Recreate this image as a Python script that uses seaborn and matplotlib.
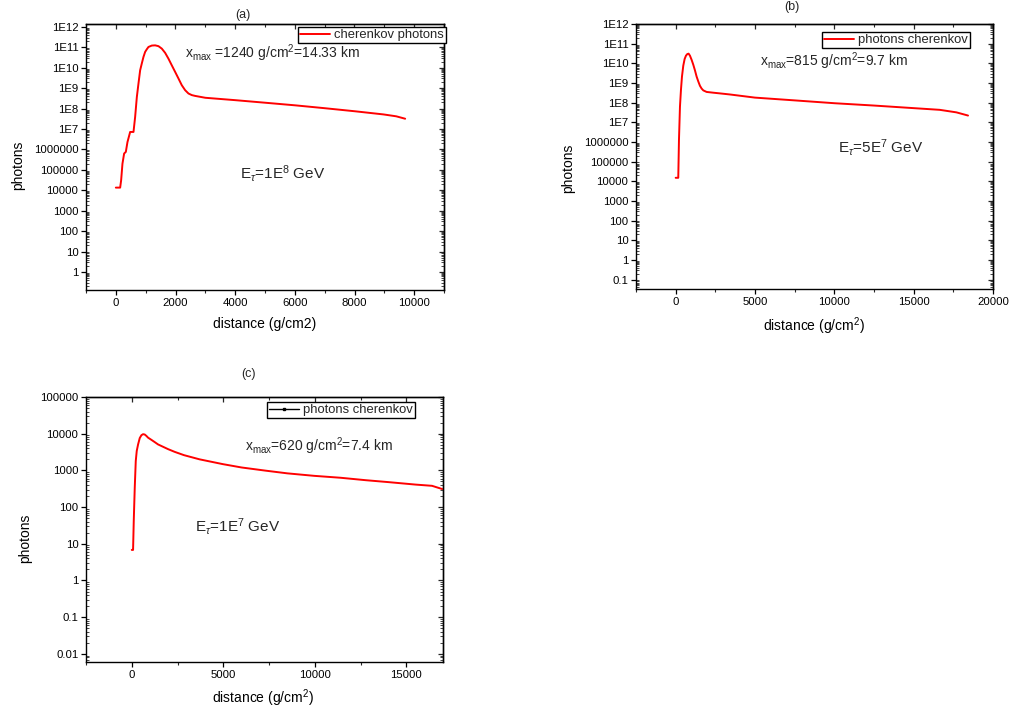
import numpy as np
import pandas as pd
import matplotlib
matplotlib.use("Agg")
import matplotlib.pyplot as plt
import seaborn as sns
from matplotlib.ticker import FixedLocator, LogLocator, MultipleLocator, NullFormatter
from matplotlib.lines import Line2D

# ---------------- data ----------------
a_x = [0, 145, 178, 222, 278, 335, 390, 480, 592, 647, 704, 759, 815, 870, 926, 982, 1038,
       1094, 1206, 1317, 1429, 1541, 1653, 1764, 1876, 1988, 2099, 2211, 2323, 2435, 2547,
       2658, 3000, 4000, 5000, 6011, 7000, 8022, 8972, 9400, 9698]
a_y = [1.35e4, 1.35e4, 3.1e4, 2.0e5, 6.3e5, 7.6e5, 2.3e6, 7.2e6, 7.2e6, 3.9e7, 3.7e8,
       1.7e9, 7.6e9, 1.62e10, 3.4e10, 6.0e10, 8.1e10, 1.05e11, 1.23e11, 1.26e11, 1.15e11,
       8.7e10, 5.4e10, 2.8e10, 1.32e10, 6.3e9, 3.0e9, 1.4e9, 8.0e8, 5.5e8, 4.6e8, 4.2e8,
       3.4e8, 2.6e8, 1.95e8, 1.45e8, 1.05e8, 7.4e7, 5.2e7, 4.2e7, 3.2e7]

b_x = [0, 164, 208, 271, 334, 397, 480, 565, 649, 732, 816, 900, 1006, 1110, 1215, 1321,
       1425, 1530, 1635, 1740, 1950, 2370, 2790, 3420, 4995, 7500, 10031, 12500, 15068,
       16642, 17691, 18426]
b_y = [1.5e4, 1.5e4, 1.26e6, 6.3e7, 4.5e8, 2.1e9, 7.6e9, 1.66e10, 2.45e10, 2.95e10,
       3.1e10, 2.45e10, 1.5e10, 8.5e9, 4.4e9, 2.1e9, 1.2e9, 7.2e8, 5.2e8, 4.2e8, 3.5e8,
       3.2e8, 2.95e8, 2.6e8, 1.8e8, 1.3e8, 9.3e7, 7.1e7, 5.2e7, 4.3e7, 3.2e7, 2.2e7]

c_x = [0, 71, 109, 163, 218, 272, 345, 436, 527, 618, 708, 799, 890, 1072, 1254, 1435,
       1708, 1980, 2344, 2853, 3704, 4976, 6000, 7336, 8500, 9969, 11400, 12784, 14000,
       15508, 16400, 16960]
c_y = [6.8, 6.8, 43, 340, 1800, 3400, 5100, 7600, 9100, 9700, 9500, 8700, 7800, 6800,
       5900, 5100, 4400, 3800, 3200, 2600, 2000, 1480, 1200, 980, 830, 710, 630, 540, 480,
       410, 380, 310]

ab_yticks = [1e-1, 1, 10, 100, 1e3, 1e4, 1e5, 1e6, 1e7, 1e8, 1e9, 1e10, 1e11, 1e12]
ab_ylabels = ["0.1", "1", "10", "100", "1000", "10000", "100000", "1000000",
              "1E7", "1E8", "1E9", "1E10", "1E11", "1E12"]
c_yticks = [1e-2, 1e-1, 1, 10, 100, 1e3, 1e4, 1e5]
c_ylabels = ["0.01", "0.1", "1", "10", "100", "1000", "10000", "100000"]

# ---------------- style ----------------
sns.set_theme(style="ticks")
plt.rcParams['font.family'] = ['Liberation Sans', 'DejaVu Sans']
plt.rcParams['mathtext.fontset'] = 'custom'
plt.rcParams['mathtext.rm'] = 'Liberation Sans'
plt.rcParams['mathtext.it'] = 'Liberation Sans:italic'
plt.rcParams['mathtext.bf'] = 'Liberation Sans:bold'
plt.rcParams['mathtext.sf'] = 'Liberation Sans'

W, H = 1015, 713
fig = plt.figure(figsize=(W / 100, H / 100), dpi=100)


def rect(l, t, r, b):
    return [l / W, 1 - b / H, (r - l) / W, (b - t) / H]


def fx(px):
    return px / W


def fy(py):
    return 1 - py / H


def style(ax, xlim, ylim, xmaj, xmin, yticks, ylabels):
    ax.set_yscale('log')
    ax.set_xlim(*xlim)
    ax.set_ylim(*ylim)
    ax.xaxis.set_major_locator(MultipleLocator(xmaj))
    ax.xaxis.set_minor_locator(MultipleLocator(xmin))
    ax.yaxis.set_major_locator(FixedLocator(yticks))
    ax.set_yticklabels(ylabels)
    ax.yaxis.set_minor_locator(LogLocator(base=10, subs=np.arange(2, 10), numticks=200))
    ax.yaxis.set_minor_formatter(NullFormatter())
    ax.set_facecolor('white')
    for s in ax.spines.values():
        s.set_linewidth(1.0)
        s.set_color('black')
    ax.tick_params(axis='both', which='major', labelsize=8.2, colors='black', width=0.9,
                   length=3.5, pad=2, top=False, right=False)
    ax.tick_params(axis='x', which='major', direction='out')
    ax.tick_params(axis='x', which='minor', direction='out', length=2.2, width=0.8,
                   top=False)
    ax.tick_params(axis='y', which='major', direction='out')
    ax.tick_params(axis='y', which='minor', direction='in', length=2.0, width=0.6,
                   right=False)
    # top / right inward ticks
    sx = ax.secondary_xaxis('top')
    sx.xaxis.set_major_locator(MultipleLocator(xmaj))
    sx.xaxis.set_minor_locator(MultipleLocator(xmin))
    sx.tick_params(which='major', direction='in', length=3.5, width=0.9, labeltop=False)
    sx.tick_params(which='minor', direction='in', length=2.2, width=0.8)
    sx.spines['top'].set_linewidth(1.0)
    sy = ax.secondary_yaxis('right')
    sy.yaxis.set_major_locator(FixedLocator(yticks))
    sy.yaxis.set_minor_locator(LogLocator(base=10, subs=np.arange(2, 10), numticks=200))
    sy.yaxis.set_minor_formatter(NullFormatter())
    sy.tick_params(which='major', direction='in', length=3.5, width=0.9, labelright=False)
    sy.tick_params(which='minor', direction='in', length=2.0, width=0.6)
    sy.spines['right'].set_linewidth(1.0)


def labels(ax, axrect, xlabel, xl_pos, yl_pos):
    l, t, r, b = axrect
    ax.set_xlabel(xlabel, fontsize=10, color='black')
    ax.set_ylabel("photons", fontsize=10, color='black')
    ax.xaxis.set_label_coords((xl_pos[0] - l) / (r - l), (b - xl_pos[1]) / (b - t))
    ax.yaxis.set_label_coords((yl_pos[0] - l) / (r - l), (b - yl_pos[1]) / (b - t))
    ax.xaxis.label.set_va('center')
    ax.yaxis.label.set_va('center')


leg_kw = dict(loc='upper right', bbox_transform=fig.transFigure, fontsize=9.4,
              frameon=True, fancybox=False, edgecolor='black', framealpha=1,
              borderpad=0.15, handlelength=2.3, handletextpad=0.35, borderaxespad=0)

# ---------------- panel (a) ----------------
ra = (86, 24, 444, 290)
ax_a = fig.add_axes(rect(*ra))
df_a = pd.DataFrame({"distance": a_x, "photons": a_y})
sns.lineplot(data=df_a, x="distance", y="photons", ax=ax_a, color='#ff0000', lw=1.4,
             estimator=None, sort=False, label="cherenkov photons")
style(ax_a, (-1000, 11000), (0.13, 1.4e12), 2000, 1000, ab_yticks[1:], ab_ylabels[1:])
labels(ax_a, ra, "distance (g/cm2)", (265, 324), (18, 165))
lg = ax_a.legend(bbox_to_anchor=(fx(446), fy(27)), **leg_kw)
lg.get_frame().set_linewidth(1.0)
fig.text(fx(243), fy(15), "(a)", ha='center', va='center', fontsize=9)
fig.text(fx(185), fy(53), r"x$_{\mathrm{max}}$ =1240 g/cm$^{2}$=14.33 km", ha='left',
         va='center', fontsize=10)
fig.text(fx(240), fy(173), r"E$_{\tau}$=1E$^{8}$ GeV", ha='left', va='center', fontsize=11)

# ---------------- panel (b) ----------------
rb = (636, 24, 993, 289)
ax_b = fig.add_axes(rect(*rb))
df_b = pd.DataFrame({"distance": b_x, "photons": b_y})
sns.lineplot(data=df_b, x="distance", y="photons", ax=ax_b, color='#ff0000', lw=1.4,
             estimator=None, sort=False, label="photons cherenkov")
style(ax_b, (-2500, 20000), (0.033, 1e12), 5000, 2500, ab_yticks, ab_ylabels)
labels(ax_b, rb, r"distance (g/cm$^{2}$)", (814, 326), (568, 168))
lg = ax_b.legend(bbox_to_anchor=(fx(970), fy(32)), **leg_kw)
lg.get_frame().set_linewidth(1.0)
fig.text(fx(792), fy(7), "(b)", ha='center', va='center', fontsize=9)
fig.text(fx(760), fy(61), r"x$_{\mathrm{max}}$=815 g/cm$^{2}$=9.7 km", ha='left',
         va='center', fontsize=10)
fig.text(fx(838), fy(147), r"E$_{\tau}$=5E$^{7}$ GeV", ha='left', va='center', fontsize=11)

# ---------------- panel (c) ----------------
rc = (86, 397, 443, 662)
ax_c = fig.add_axes(rect(*rc))
df_c = pd.DataFrame({"distance": c_x, "photons": c_y})
sns.lineplot(data=df_c, x="distance", y="photons", ax=ax_c, color='#ff0000', lw=1.4,
             estimator=None, sort=False, legend=False)
style(ax_c, (-2500, 17000), (0.006, 1e5), 5000, 2500, c_yticks, c_ylabels)
labels(ax_c, rc, r"distance (g/cm$^{2}$)", (263, 698), (25, 538))
handle_c = Line2D([], [], color='black', lw=1.0, marker='s', markersize=2)
lg = ax_c.legend([handle_c], ["photons cherenkov"], bbox_to_anchor=(fx(415), fy(402)), **leg_kw)
lg.get_frame().set_linewidth(1.0)
fig.text(fx(248), fy(374), "(c)", ha='center', va='center', fontsize=9)
fig.text(fx(245), fy(446), r"x$_{\mathrm{max}}$=620 g/cm$^{2}$=7.4 km", ha='left',
         va='center', fontsize=10)
fig.text(fx(195), fy(527), r"E$_{\tau}$=1E$^{7}$ GeV", ha='left', va='center', fontsize=11)

fig.savefig("out.png", dpi=100, facecolor='white')
